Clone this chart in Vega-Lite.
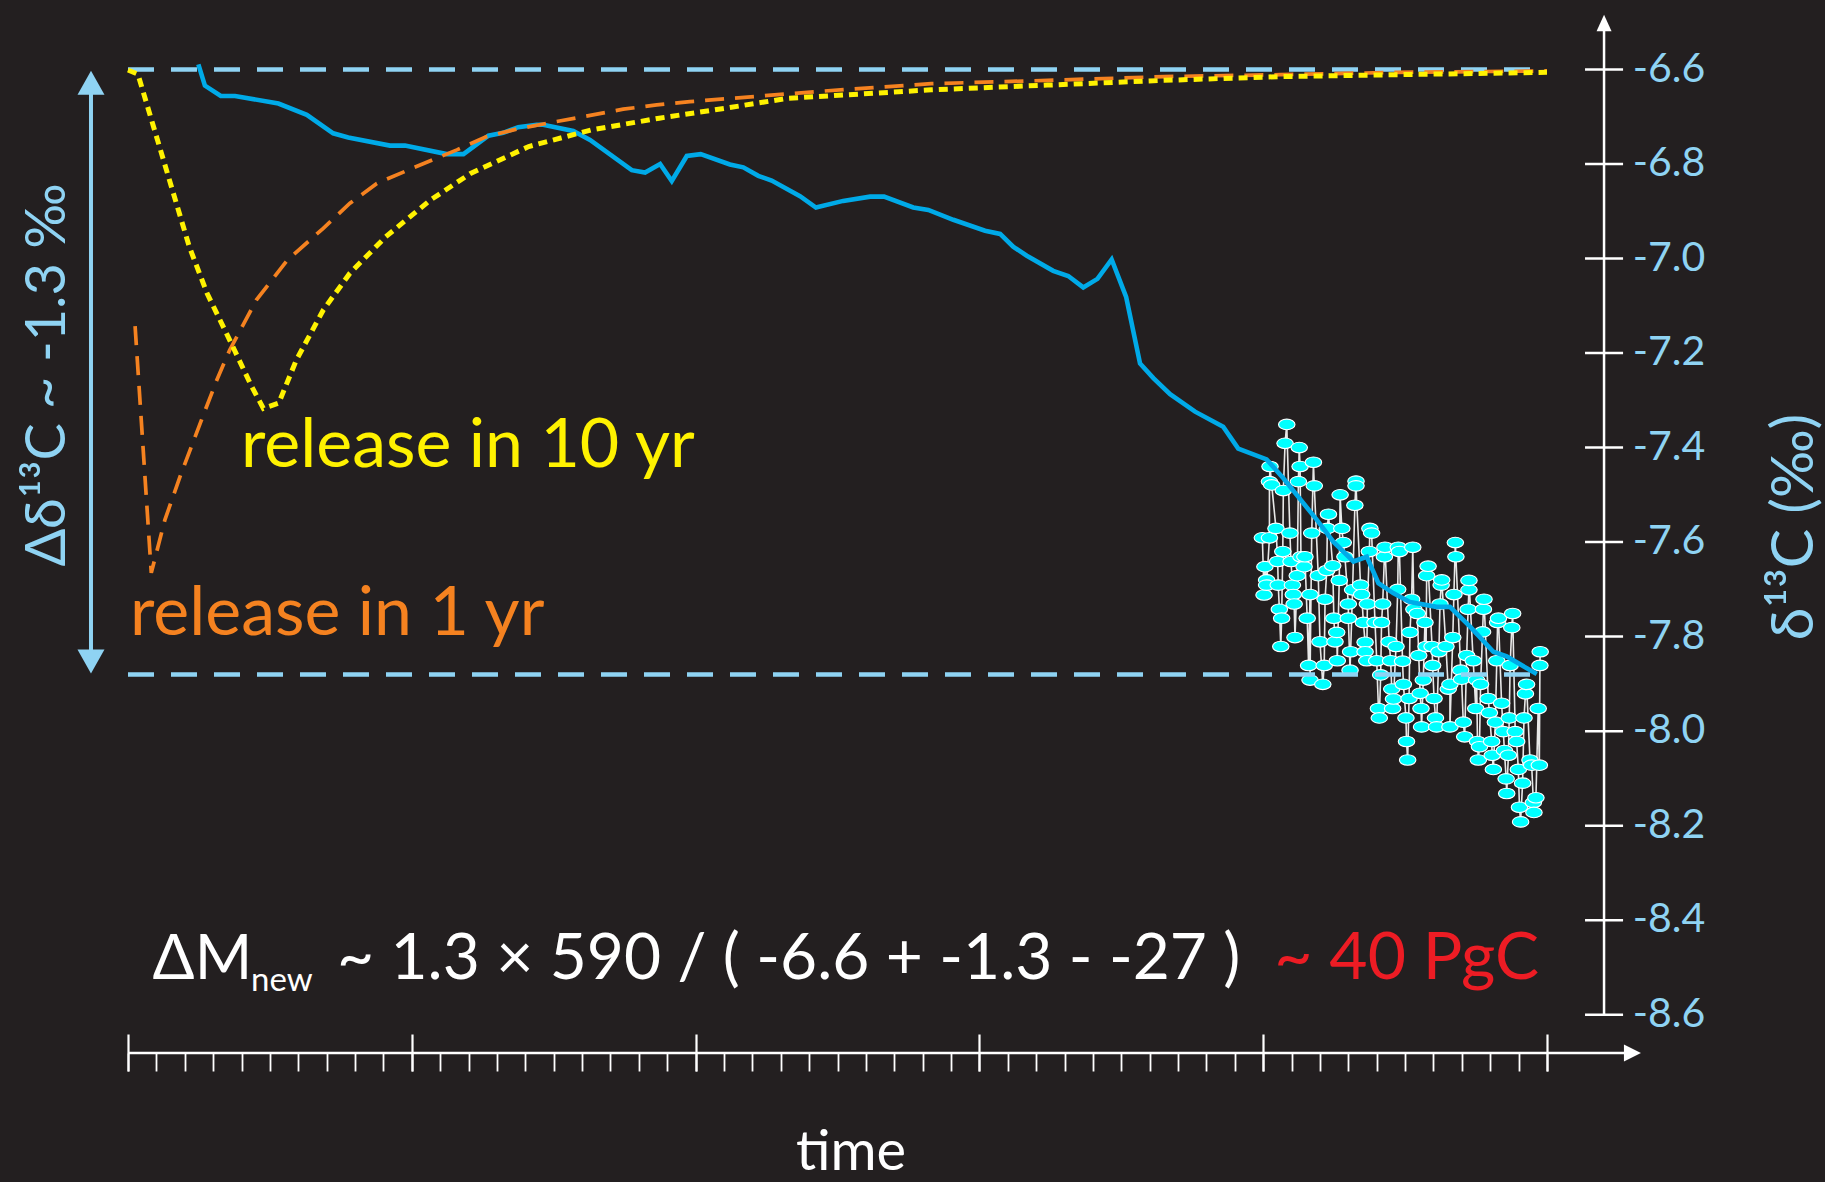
{
  "$schema": "https://vega.github.io/schema/vega-lite/v6.json",
  "width": 1825,
  "height": 1182,
  "autosize": {"type": "none"},
  "padding": 0,
  "background": "#231f20",
  "config": {"view": {"stroke": null}, "font": "Lato"},
  "data": {"values": [{}]},
  "datasets": {
    "blue": [
      {"t":2.48,"d":-6.589},{"t":2.71,"d":-6.634},{"t":3.27,"d":-6.656},{"t":3.77,"d":-6.656},{"t":5.30,"d":-6.672},{"t":6.30,"d":-6.696},{"t":7.23,"d":-6.735},{"t":7.76,"d":-6.744},{"t":9.23,"d":-6.761},{"t":9.76,"d":-6.761},{"t":11.23,"d":-6.779},{"t":11.82,"d":-6.779},{"t":12.70,"d":-6.740},{"t":13.22,"d":-6.734},{"t":13.75,"d":-6.722},{"t":14.40,"d":-6.717},{"t":14.63,"d":-6.717},{"t":15.69,"d":-6.730},{"t":16.28,"d":-6.749},{"t":17.75,"d":-6.813},{"t":18.22,"d":-6.818},{"t":18.75,"d":-6.800},{"t":19.16,"d":-6.836},{"t":19.69,"d":-6.783},{"t":20.18,"d":-6.779},{"t":21.21,"d":-6.801},{"t":21.68,"d":-6.807},{"t":22.21,"d":-6.825},{"t":22.68,"d":-6.835},{"t":23.68,"d":-6.868},{"t":24.24,"d":-6.892},{"t":25.20,"d":-6.878},{"t":26.15,"d":-6.869},{"t":26.64,"d":-6.869},{"t":27.67,"d":-6.892},{"t":28.20,"d":-6.897},{"t":29.08,"d":-6.918},{"t":30.20,"d":-6.941},{"t":30.73,"d":-6.948},{"t":31.19,"d":-6.975},{"t":31.67,"d":-6.994},{"t":32.60,"d":-7.026},{"t":33.13,"d":-7.037},{"t":33.66,"d":-7.061},{"t":34.16,"d":-7.043},{"t":34.66,"d":-7.002},{"t":35.17,"d":-7.081},{"t":35.66,"d":-7.222},{"t":36.13,"d":-7.253},{"t":36.72,"d":-7.287},{"t":37.60,"d":-7.324},{"t":38.59,"d":-7.356},{"t":39.12,"d":-7.402},{"t":40.12,"d":-7.425},{"t":40.71,"d":-7.465},{"t":41.89,"d":-7.553},{"t":42.47,"d":-7.599},{"t":43.18,"d":-7.641},{"t":43.65,"d":-7.631},{"t":44.06,"d":-7.687},{"t":44.58,"d":-7.708},{"t":45.17,"d":-7.727},{"t":46.11,"d":-7.737},{"t":46.58,"d":-7.737},{"t":47.29,"d":-7.779},{"t":48.11,"d":-7.832},{"t":48.58,"d":-7.842},{"t":49.29,"d":-7.867},{"t":49.64,"d":-7.879}
    ],
    "orange": [
      {"t":0.25,"d":-7.143},{"t":0.82,"d":-7.665},{"t":1.30,"d":-7.553},{"t":1.83,"d":-7.462},{"t":2.63,"d":-7.335},{"t":3.13,"d":-7.257},{"t":3.58,"d":-7.194},{"t":4.52,"d":-7.088},{"t":5.62,"d":-7.003},{"t":6.88,"d":-6.936},{"t":7.82,"d":-6.883},{"t":8.77,"d":-6.841},{"t":10.02,"d":-6.809},{"t":11.59,"d":-6.770},{"t":12.64,"d":-6.742},{"t":13.70,"d":-6.726},{"t":14.75,"d":-6.714},{"t":16.04,"d":-6.700},{"t":17.45,"d":-6.684},{"t":18.63,"d":-6.675},{"t":19.80,"d":-6.668},{"t":24.20,"d":-6.647},{"t":28.30,"d":-6.630},{"t":32.40,"d":-6.623},{"t":36.50,"d":-6.615},{"t":40.60,"d":-6.611},{"t":44.70,"d":-6.606},{"t":50.0,"d":-6.603}
    ],
    "yellow": [
      {"t":0.0,"d":-6.601},{"t":0.35,"d":-6.610},{"t":0.90,"d":-6.721},{"t":1.53,"d":-6.848},{"t":2.16,"d":-6.975},{"t":2.79,"d":-7.074},{"t":3.58,"d":-7.172},{"t":4.36,"d":-7.271},{"t":4.77,"d":-7.317},{"t":5.31,"d":-7.306},{"t":5.93,"d":-7.215},{"t":6.88,"d":-7.109},{"t":7.82,"d":-7.031},{"t":9.08,"d":-6.954},{"t":10.66,"d":-6.876},{"t":12.07,"d":-6.820},{"t":14.12,"d":-6.763},{"t":16.31,"d":-6.728},{"t":18.72,"d":-6.703},{"t":21.04,"d":-6.682},{"t":23.24,"d":-6.661},{"t":28.30,"d":-6.643},{"t":32.40,"d":-6.633},{"t":36.50,"d":-6.623},{"t":40.60,"d":-6.615},{"t":44.70,"d":-6.611},{"t":50.0,"d":-6.606}
    ],
    "yticks": [
      {"v":-6.6,"label":"-6.6"},{"v":-6.8,"label":"-6.8"},{"v":-7.0,"label":"-7.0"},{"v":-7.2,"label":"-7.2"},{"v":-7.4,"label":"-7.4"},{"v":-7.6,"label":"-7.6"},{"v":-7.8,"label":"-7.8"},{"v":-8.0,"label":"-8.0"},{"v":-8.2,"label":"-8.2"},{"v":-8.4,"label":"-8.4"},{"v":-8.6,"label":"-8.6"}
    ],
    "obs": [
      {"t":39.97,"d":-7.591},{"t":40.03,"d":-7.712},{"t":40.06,"d":-7.652},{"t":40.12,"d":-7.680},{"t":40.12,"d":-7.691},{"t":40.22,"d":-7.591},{"t":40.22,"d":-7.472},{"t":40.24,"d":-7.440},{"t":40.30,"d":-7.479},{"t":40.45,"d":-7.571},{"t":40.51,"d":-7.641},{"t":40.53,"d":-7.691},{"t":40.57,"d":-7.742},{"t":40.62,"d":-7.821},{"t":40.65,"d":-7.761},{"t":40.69,"d":-7.620},{"t":40.71,"d":-7.491},{"t":40.77,"d":-7.391},{"t":40.83,"d":-7.351},{"t":40.94,"d":-7.581},{"t":40.98,"d":-7.641},{"t":41.03,"d":-7.691},{"t":41.06,"d":-7.711},{"t":41.09,"d":-7.731},{"t":41.12,"d":-7.802},{"t":41.20,"d":-7.671},{"t":41.24,"d":-7.472},{"t":41.27,"d":-7.400},{"t":41.30,"d":-7.440},{"t":41.33,"d":-7.631},{"t":41.44,"d":-7.652},{"t":41.47,"d":-7.631},{"t":41.55,"d":-7.761},{"t":41.60,"d":-7.861},{"t":41.65,"d":-7.711},{"t":41.65,"d":-7.892},{"t":41.71,"d":-7.581},{"t":41.77,"d":-7.431},{"t":41.80,"d":-7.481},{"t":41.94,"d":-7.671},{"t":42.00,"d":-7.811},{"t":42.10,"d":-7.901},{"t":42.15,"d":-7.861},{"t":42.18,"d":-7.721},{"t":42.24,"d":-7.660},{"t":42.26,"d":-7.571},{"t":42.30,"d":-7.541},{"t":42.45,"d":-7.650},{"t":42.49,"d":-7.761},{"t":42.53,"d":-7.811},{"t":42.59,"d":-7.791},{"t":42.61,"d":-7.851},{"t":42.68,"d":-7.681},{"t":42.71,"d":-7.500},{"t":42.77,"d":-7.571},{"t":42.82,"d":-7.601},{"t":42.88,"d":-7.631},{"t":43.00,"d":-7.731},{"t":43.00,"d":-7.761},{"t":43.06,"d":-7.871},{"t":43.08,"d":-7.832},{"t":43.15,"d":-7.701},{"t":43.23,"d":-7.522},{"t":43.27,"d":-7.471},{"t":43.27,"d":-7.481},{"t":43.43,"d":-7.691},{"t":43.47,"d":-7.711},{"t":43.53,"d":-7.770},{"t":43.59,"d":-7.812},{"t":43.59,"d":-7.832},{"t":43.65,"d":-7.851},{"t":43.67,"d":-7.731},{"t":43.74,"d":-7.620},{"t":43.76,"d":-7.571},{"t":43.82,"d":-7.581},{"t":43.94,"d":-7.770},{"t":44.00,"d":-7.851},{"t":44.06,"d":-7.952},{"t":44.09,"d":-7.972},{"t":44.14,"d":-7.881},{"t":44.17,"d":-7.770},{"t":44.21,"d":-7.731},{"t":44.27,"d":-7.631},{"t":44.29,"d":-7.611},{"t":44.44,"d":-7.811},{"t":44.49,"d":-7.851},{"t":44.53,"d":-7.911},{"t":44.56,"d":-7.952},{"t":44.59,"d":-7.932},{"t":44.68,"d":-7.821},{"t":44.74,"d":-7.700},{"t":44.76,"d":-7.611},{"t":44.80,"d":-7.620},{"t":44.91,"d":-7.852},{"t":44.94,"d":-7.901},{"t":45.03,"d":-7.972},{"t":45.05,"d":-8.022},{"t":45.09,"d":-8.061},{"t":45.14,"d":-7.931},{"t":45.17,"d":-7.791},{"t":45.23,"d":-7.721},{"t":45.27,"d":-7.611},{"t":45.31,"d":-7.742},{"t":45.43,"d":-7.751},{"t":45.48,"d":-7.840},{"t":45.53,"d":-7.920},{"t":45.56,"d":-7.952},{"t":45.58,"d":-7.991},{"t":45.64,"d":-7.892},{"t":45.70,"d":-7.770},{"t":45.74,"d":-7.821},{"t":45.76,"d":-7.671},{"t":45.81,"d":-7.651},{"t":45.95,"d":-7.821},{"t":45.97,"d":-7.861},{"t":46.02,"d":-7.931},{"t":46.07,"d":-7.972},{"t":46.11,"d":-7.991},{"t":46.19,"d":-7.832},{"t":46.23,"d":-7.731},{"t":46.27,"d":-7.691},{"t":46.29,"d":-7.680},{"t":46.44,"d":-7.821},{"t":46.52,"d":-7.911},{"t":46.58,"d":-7.901},{"t":46.58,"d":-7.991},{"t":46.68,"d":-7.802},{"t":46.72,"d":-7.711},{"t":46.77,"d":-7.601},{"t":46.79,"d":-7.631},{"t":46.96,"d":-7.871},{"t":46.99,"d":-7.890},{"t":47.05,"d":-7.981},{"t":47.10,"d":-8.012},{"t":47.17,"d":-7.840},{"t":47.22,"d":-7.742},{"t":47.25,"d":-7.701},{"t":47.25,"d":-7.681},{"t":47.40,"d":-7.851},{"t":47.49,"d":-7.952},{"t":47.52,"d":-7.892},{"t":47.55,"d":-8.022},{"t":47.58,"d":-8.061},{"t":47.62,"d":-8.033},{"t":47.66,"d":-7.901},{"t":47.73,"d":-7.790},{"t":47.76,"d":-7.742},{"t":47.78,"d":-7.721},{"t":47.93,"d":-7.931},{"t":47.97,"d":-7.961},{"t":48.05,"d":-8.022},{"t":48.07,"d":-8.051},{"t":48.11,"d":-8.081},{"t":48.18,"d":-7.981},{"t":48.23,"d":-7.851},{"t":48.26,"d":-7.770},{"t":48.29,"d":-7.761},{"t":48.40,"d":-7.941},{"t":48.46,"d":-8.001},{"t":48.50,"d":-8.041},{"t":48.56,"d":-8.101},{"t":48.58,"d":-8.132},{"t":48.64,"d":-8.051},{"t":48.67,"d":-7.972},{"t":48.70,"d":-7.861},{"t":48.76,"d":-7.781},{"t":48.79,"d":-7.751},{"t":48.88,"d":-8.001},{"t":48.93,"d":-8.022},{"t":48.99,"d":-8.081},{"t":49.03,"d":-8.161},{"t":49.07,"d":-8.192},{"t":49.14,"d":-8.110},{"t":49.19,"d":-7.972},{"t":49.24,"d":-7.921},{"t":49.28,"d":-7.901},{"t":49.40,"d":-8.061},{"t":49.46,"d":-8.072},{"t":49.52,"d":-8.151},{"t":49.54,"d":-8.172},{"t":49.61,"d":-8.141},{"t":49.69,"d":-7.952},{"t":49.73,"d":-8.072},{"t":49.75,"d":-7.861},{"t":49.76,"d":-7.832}
    ]
  },
  "resolve": {"axis": {"x": "independent"}},
  "layer": [
    {
      "data": {"name": "obs"},
      "mark": {"type": "line", "color": "#e8e8e8", "strokeWidth": 1.6},
      "encoding": {
        "x": {"field": "t", "type": "quantitative", "scale": {"domain": [-4.5102, 59.7956], "nice": false, "zero": false},
              "axis": {"orient": "bottom", "offset": -129, "values": [0,1,2,3,4,5,6,7,8,9,10,11,12,13,14,15,16,17,18,19,20,21,22,23,24,25,26,27,28,29,30,31,32,33,34,35,36,37,38,39,40,41,42,43,44,45,46,47,48,49,50], "tickSize": 18, "tickColor": "#ffffff", "tickWidth": 1.8, "domain": false, "grid": false, "labels": false, "title": null}},
        "y": {"field": "d", "type": "quantitative", "scale": {"domain": [-8.954, -6.45294], "nice": false, "zero": false}, "axis": null}
      }
    },
    {
      "data": {"name": "obs"},
      "mark": {"type": "point", "shape": "M-1,0A1,0.64,0,1,1,1,0A1,0.64,0,1,1,-1,0Z", "size": 272, "filled": true, "fill": "#00ffff", "stroke": "#ffffff", "strokeWidth": 1.1, "opacity": 1},
      "encoding": {
        "x": {"field": "t", "type": "quantitative", "axis": {"orient": "bottom", "offset": -148, "values": [0,10,20,30,40,50], "tickSize": 37, "tickColor": "#ffffff", "tickWidth": 2.2, "domain": false, "grid": false, "labels": false, "title": null}},
        "y": {"field": "d", "type": "quantitative", "axis": null}
      }
    },
    {
      "data": {"values": [{"level": -6.6}, {"level": -7.88}]},
      "mark": {"type": "rule", "color": "#8fd3f3", "strokeWidth": 4.5, "strokeDash": [26, 17]},
      "encoding": {
        "y": {"field": "level", "type": "quantitative", "axis": null},
        "x": {"datum": 0, "type": "quantitative", "axis": null},
        "x2": {"datum": 50}
      }
    },
    {
      "data": {"name": "blue"},
      "mark": {"type": "line", "color": "#00aae8", "strokeWidth": 4.6},
      "encoding": {
        "x": {"field": "t", "type": "quantitative", "axis": null},
        "y": {"field": "d", "type": "quantitative", "axis": null}
      }
    },
    {
      "data": {"name": "orange"},
      "mark": {"type": "line", "color": "#f58220", "strokeWidth": 3.7, "strokeDash": [19, 11]},
      "encoding": {
        "x": {"field": "t", "type": "quantitative", "axis": null},
        "y": {"field": "d", "type": "quantitative", "axis": null}
      }
    },
    {
      "data": {"name": "yellow"},
      "mark": {"type": "line", "color": "#fff200", "strokeWidth": 5, "strokeDash": [9, 6]},
      "encoding": {
        "x": {"field": "t", "type": "quantitative", "axis": null},
        "y": {"field": "d", "type": "quantitative", "axis": null}
      }
    },
    {
      "data": {"name": "yticks"},
      "mark": {"type": "rule", "color": "#ffffff", "strokeWidth": 2.5},
      "encoding": {
        "y": {"field": "v", "type": "quantitative", "axis": null},
        "x": {"datum": 51.34, "type": "quantitative", "axis": null},
        "x2": {"datum": 52.68}
      }
    },
    {
      "data": {"name": "yticks"},
      "mark": {"type": "text", "font": "Lato", "fontSize": 41, "color": "#8fd3f3", "align": "left", "baseline": "middle"},
      "encoding": {
        "y": {"field": "v", "type": "quantitative", "axis": null},
        "x": {"datum": 53.02, "type": "quantitative", "axis": null},
        "text": {"field": "label"}
      }
    },
    {
      "mark": {"type": "rule", "color": "#ffffff", "strokeWidth": 2.5},
      "encoding": {
        "x": {"datum": 52.01, "type": "quantitative", "axis": null},
        "y": {"datum": -8.6, "type": "quantitative", "axis": null},
        "y2": {"datum": -6.515}
      }
    },
    {
      "mark": {"type": "point", "shape": "M0,0L-1,2.2L1,2.2Z", "size": 225, "filled": true, "color": "#ffffff", "opacity": 1},
      "encoding": {
        "x": {"datum": 52.01, "type": "quantitative", "axis": null},
        "y": {"datum": -6.484, "type": "quantitative", "axis": null}
      }
    },
    {
      "mark": {"type": "rule", "color": "#ffffff", "strokeWidth": 2.5},
      "encoding": {
        "x": {"datum": 0, "type": "quantitative", "axis": null},
        "x2": {"datum": 53.0},
        "y": {"datum": -8.681, "type": "quantitative", "axis": null}
      }
    },
    {
      "mark": {"type": "point", "shape": "M0,0L-2,-1L-2,1Z", "size": 289, "filled": true, "color": "#ffffff", "opacity": 1},
      "encoding": {
        "x": {"datum": 53.31, "type": "quantitative", "axis": null},
        "y": {"datum": -8.681, "type": "quantitative", "axis": null}
      }
    },
    {
      "mark": {"type": "rule", "color": "#8fd3f3", "strokeWidth": 4},
      "encoding": {
        "x": {"datum": -1.304, "type": "quantitative", "axis": null},
        "y": {"datum": -6.63, "type": "quantitative", "axis": null},
        "y2": {"datum": -7.85}
      }
    },
    {
      "mark": {"type": "point", "shape": "M0,0L-1,1.78L1,1.78Z", "size": 729, "filled": true, "color": "#8fd3f3", "opacity": 1},
      "encoding": {
        "x": {"datum": -1.304, "type": "quantitative", "axis": null},
        "y": {"datum": -6.6025, "type": "quantitative", "axis": null}
      }
    },
    {
      "mark": {"type": "point", "shape": "M0,0L-1,-1.78L1,-1.78Z", "size": 729, "filled": true, "color": "#8fd3f3", "opacity": 1},
      "encoding": {
        "x": {"datum": -1.304, "type": "quantitative", "axis": null},
        "y": {"datum": -7.878, "type": "quantitative", "axis": null}
      }
    },
    {
      "mark": {"type": "text", "text": "release in 10 yr", "font": "Lato", "fontSize": 68, "color": "#fff200", "align": "left", "baseline": "alphabetic"},
      "encoding": {
        "x": {"datum": 3.98, "type": "quantitative", "axis": null},
        "y": {"datum": -7.4405, "type": "quantitative", "axis": null}
      }
    },
    {
      "mark": {"type": "text", "text": "release in 1 yr", "font": "Lato", "fontSize": 68, "color": "#f58220", "align": "left", "baseline": "alphabetic"},
      "encoding": {
        "x": {"datum": 0.07, "type": "quantitative", "axis": null},
        "y": {"datum": -7.7976, "type": "quantitative", "axis": null}
      }
    },
    {
      "mark": {"type": "text", "text": "ΔM", "font": "Lato", "fontSize": 62, "color": "#ffffff", "align": "left", "baseline": "alphabetic"},
      "encoding": {
        "x": {"datum": 0.867, "type": "quantitative", "axis": null},
        "y": {"datum": -8.5245, "type": "quantitative", "axis": null}
      }
    },
    {
      "mark": {"type": "text", "text": "new", "font": "Lato", "fontSize": 33, "color": "#ffffff", "align": "left", "baseline": "alphabetic"},
      "encoding": {
        "x": {"datum": 4.334, "type": "quantitative", "axis": null},
        "y": {"datum": -8.5499, "type": "quantitative", "axis": null}
      }
    },
    {
      "mark": {"type": "text", "text": "~ 1.3 × 590 / ( -6.6 + -1.3 - -27 )", "font": "Lato", "fontSize": 64, "color": "#ffffff", "align": "left", "baseline": "alphabetic"},
      "encoding": {
        "x": {"datum": 7.364, "type": "quantitative", "axis": null},
        "y": {"datum": -8.5245, "type": "quantitative", "axis": null}
      }
    },
    {
      "mark": {"type": "text", "text": "~ 40 PgC", "font": "Lato", "fontSize": 66, "color": "#ed1c24", "align": "right", "baseline": "alphabetic"},
      "encoding": {
        "x": {"datum": 49.72, "type": "quantitative", "axis": null},
        "y": {"datum": -8.5245, "type": "quantitative", "axis": null}
      }
    },
    {
      "mark": {"type": "text", "text": "time", "font": "Lato", "fontSize": 56, "color": "#ffffff", "align": "center", "baseline": "alphabetic"},
      "encoding": {
        "x": {"datum": 25.48, "type": "quantitative", "axis": null},
        "y": {"datum": -8.9285, "type": "quantitative", "axis": null}
      }
    },
    {
      "mark": {"type": "text", "text": "Δδ¹³C ~ -1.3 ‰", "font": "Lato", "fontSize": 56, "color": "#8fd3f3", "align": "center", "baseline": "alphabetic", "angle": 270},
      "encoding": {
        "x": {"datum": -2.22, "type": "quantitative", "axis": null},
        "y": {"datum": -7.2464, "type": "quantitative", "axis": null}
      }
    },
    {
      "mark": {"type": "text", "text": "δ¹³C (‰)", "font": "Lato", "fontSize": 59, "color": "#8fd3f3", "align": "center", "baseline": "alphabetic", "angle": 270},
      "encoding": {
        "x": {"datum": 59.37, "type": "quantitative", "axis": null},
        "y": {"datum": -7.568, "type": "quantitative", "axis": null}
      }
    }
  ]
}
